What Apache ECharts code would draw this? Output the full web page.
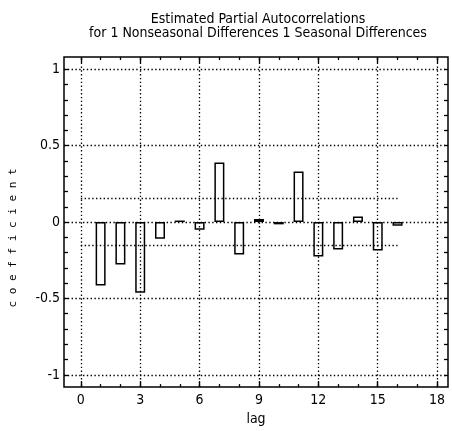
<!DOCTYPE html>
<html>
<head>
<meta charset="utf-8">
<script src="https://cdn.jsdelivr.net/npm/echarts@6/dist/echarts.min.js"></script>
<style>
html,body{margin:0;padding:0;background:#fff;}
#chart{width:452px;height:431px;}
</style>
</head>
<body>
<div id="chart"></div>
<script>
// ---- data ----
const lags = [1, 2, 3, 4, 5, 6, 7, 8, 9, 10, 11, 12, 13, 14, 15, 16];
const pacf = [-0.415, -0.277, -0.463, -0.11, 0.01, -0.05, 0.39, -0.212, 0.02, -0.015, 0.33, -0.225, -0.18, 0.037, -0.186, -0.025];
const bandLimit = 0.155;          // approx. 2/sqrt(n) limits
const bandStart = 0;
const bandEnd = 16;
const xTickLabels = [0, 3, 6, 9, 12, 15, 18];
const xMinorTicks = [0, 1, 2, 3, 4, 5, 6, 7, 8, 9, 10, 11, 12, 13, 14, 15, 16, 17, 18];
const yTickLabels = [-1, -0.5, 0, 0.5, 1];
const yMinorTicks = [-1, -0.9, -0.8, -0.7, -0.6, -0.5, -0.4, -0.3, -0.2, -0.1, 0, 0.1, 0.2, 0.3, 0.4, 0.5, 0.6, 0.7, 0.8, 0.9, 1];
const xRange = [-0.85, 18.55];
const yRange = [-1.08, 1.08];
const titleLines = ['Estimated Partial Autocorrelations', 'for 1 Nonseasonal Differences 1 Seasonal Differences'];
const xName = 'lag';
const yName = 'coefficient';

// ---- styling ----
const FONT = "'Liberation Sans Narrow', 'DejaVu Sans Condensed', 'Liberation Sans', sans-serif";
const dotted = { type: [1.4, 2.4], color: '#000', width: 1.3 };

const chart = echarts.init(document.getElementById('chart'), null, { renderer: 'canvas' });

function tickAxis(pos, vals, len, labels) {
  return {
    type: 'value', position: pos, min: xRange[0], max: xRange[1],
    axisLine: { show: false, onZero: false }, splitLine: { show: false },
    axisTick: { show: true, inside: true, length: len, customValues: vals, lineStyle: { color: '#000', width: 1.3 } },
    axisLabel: labels ? { show: true, customValues: labels, margin: 6, color: '#000', fontSize: 14, fontFamily: FONT } : { show: false }
  };
}
function yAxis(pos, labels) {
  return {
    type: 'value', position: pos, min: yRange[0], max: yRange[1],
    axisLine: { show: false, onZero: false }, splitLine: { show: false },
    axisTick: { show: true, inside: true, length: 4, customValues: yMinorTicks, lineStyle: { color: '#000', width: 1.3 } },
    axisLabel: labels ? { show: true, customValues: labels, margin: 4, color: '#000', fontSize: 14, fontFamily: FONT } : { show: false }
  };
}

const markData = [];
xTickLabels.forEach(v => markData.push({ xAxis: v }));
yTickLabels.forEach(v => markData.push({ yAxis: v }));
[bandLimit, -bandLimit].forEach(v => markData.push([{ coord: [bandStart, v] }, { coord: [bandEnd, v] }]));

const option = {
  animation: false,
  backgroundColor: '#fff',
  title: {
    text: titleLines.join('\n'),
    left: 253, top: 8, textAlign: 'center',
    textStyle: { fontSize: 14, fontWeight: 'normal', color: '#000', lineHeight: 13.5, fontFamily: FONT }
  },
  grid: { left: 64, right: 4, top: 57, bottom: 39, show: true, borderColor: '#000', borderWidth: 1.5, backgroundColor: 'transparent' },
  xAxis: [
    Object.assign(tickAxis('bottom', xTickLabels, 6, xTickLabels), {
      name: xName, nameLocation: 'middle', nameGap: 18,
      nameTextStyle: { color: '#000', fontSize: 14, fontFamily: FONT }
    }),
    tickAxis('bottom', xMinorTicks, 3, null),
    tickAxis('top', xTickLabels, 6, null),
    tickAxis('top', xMinorTicks, 3, null)
  ],
  yAxis: [yAxis('left', yTickLabels), yAxis('right', null)],
  graphic: [{
    type: 'text', x: 13, y: 238, rotation: Math.PI / 2,
    style: { text: yName.split('').join(' '), fill: '#000', font: "11px 'DejaVu Sans Mono', monospace", align: 'center', verticalAlign: 'middle' }
  }],
  series: [{
    type: 'bar', xAxisIndex: 0, yAxisIndex: 0,
    data: lags.map((l, i) => [l, pacf[i]]),
    barWidth: 10,
    itemStyle: { color: 'rgba(0,0,0,0)', borderColor: '#000', borderWidth: 1.5 },
    emphasis: { disabled: true },
    markLine: {
      silent: true, symbol: 'none', label: { show: false },
      lineStyle: dotted, data: markData, animation: false
    }
  }]
};
chart.setOption(option);
</script>
</body>
</html>
